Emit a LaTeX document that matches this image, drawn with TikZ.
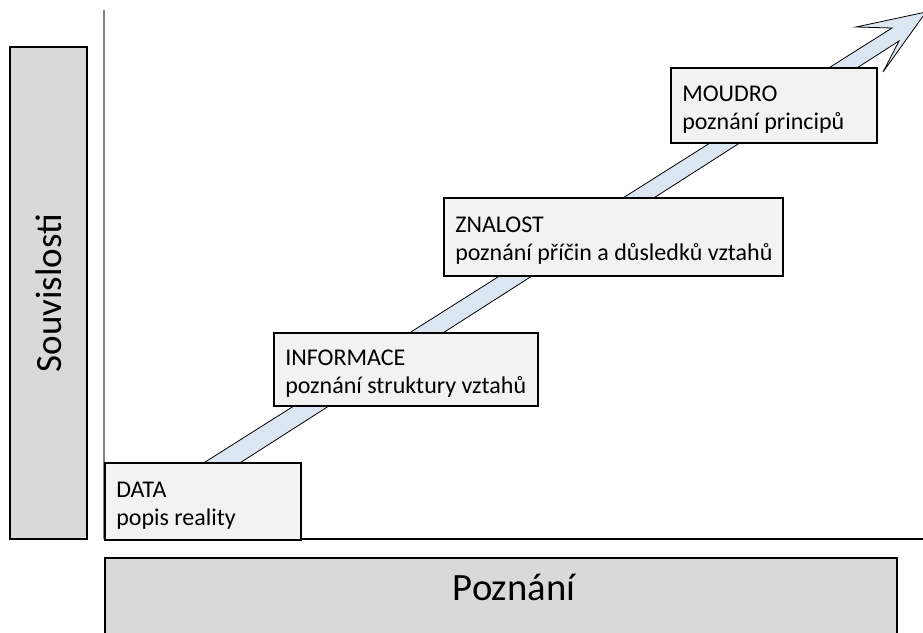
\documentclass[tikz,border=0pt]{standalone}
\usepackage{fontspec}
\setmainfont{Carlito}
\definecolor{levelfill}{HTML}{F2F2F2}
\definecolor{axisfill}{HTML}{D9D9D9}
\definecolor{arrowfill}{HTML}{DCE6F2}
\tikzstyle{levelbox}=[draw,line width=1.2pt,fill=levelfill,anchor=north west]
\tikzstyle{leveltext}=[anchor=west,align=left,inner sep=0pt,xshift=9pt,yshift=-3pt,font=\fontsize{18}{21}\selectfont]
\tikzstyle{axisbox}=[draw,line width=1.2pt,fill=axisfill,font=\fontsize{27.75}{33}\selectfont]

\begin{document}
\begin{tikzpicture}[x=0.75pt,y=-0.75pt]
    \useasboundingbox (0,0) rectangle (923,632);
    % the big arrow runs behind the boxes
    \coordinate (tip) at (926,12);
    \draw[fill=arrowfill,line width=0.6pt] (145,500) -- (892,28) -- (856,27) -- (tip) -- (883,72) -- (899,41) -- (182,500) -- cycle;

    \coordinate (o) at (104,539);
    \coordinate (ytop) at (104,10);
    \coordinate (xend) at (923,539);
    \draw[gray,line width=1.2pt] (o) -- (ytop);
    \draw[line width=0.9pt] (o) -- (xend);

    \node[levelbox,minimum width=147pt,minimum height=57.75pt] (data) at (104,462) {};
    \node[levelbox,minimum width=198pt,minimum height=54.75pt] (info) at (273,332) {};
    \node[levelbox,minimum width=254.25pt,minimum height=58.5pt] (znalost) at (443,197) {};
    \node[levelbox,minimum width=154.5pt,minimum height=56.25pt] (moudro) at (670,67) {};
    \node[leveltext] (datatext) at (data.west) {DATA\\popis reality};
    \node[leveltext] (infotext) at (info.west) {INFORMACE\\poznání struktury vztahů};
    \node[leveltext] (znalosttext) at (znalost.west) {ZNALOST\\poznání příčin a důsledků vztahů};
    \node[leveltext] (moudrotext) at (moudro.west) {MOUDRO\\poznání principů};

    \node[axisbox,rotate=90,minimum width=369pt,minimum height=57.75pt] (souvis) at (48.5,293) {Souvislosti};
    \node[axisbox,anchor=north west,minimum width=594pt,minimum height=90pt] (poznani) at (104,557) {};
    \node[font=\fontsize{29}{34}\selectfont,anchor=base] (poznanitext) at (514,600) {Poznání};
\end{tikzpicture}
\end{document}
